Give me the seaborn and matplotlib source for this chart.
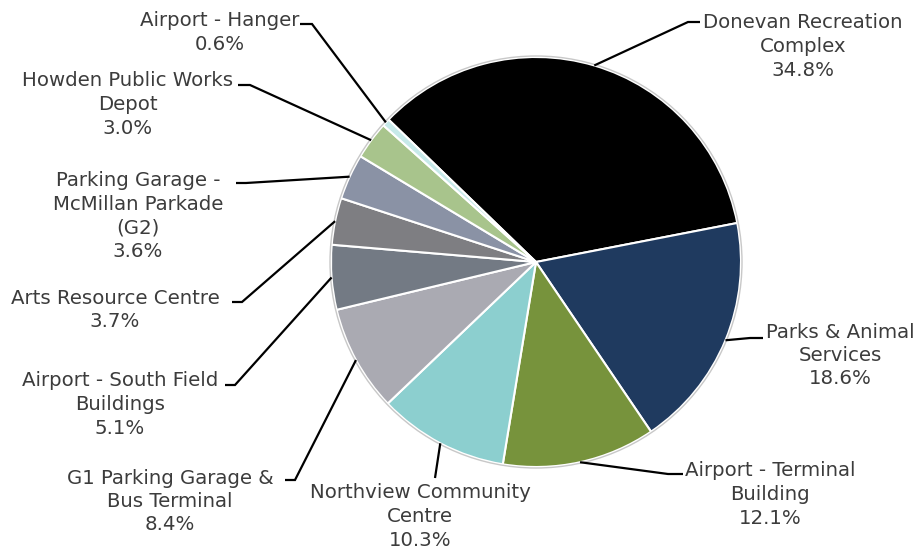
import matplotlib
matplotlib.use("Agg")
import matplotlib.pyplot as plt
import seaborn as sns
import numpy as np

# ---- data ----
labels = ["Donevan Recreation\nComplex", "Parks & Animal\nServices", "Airport - Terminal\nBuilding",
          "Northview Community\nCentre", "G1 Parking Garage &\nBus Terminal", "Airport - South Field\nBuildings",
          "Arts Resource Centre", "Parking Garage -\nMcMillan Parkade\n(G2)", "Howden Public Works\nDepot",
          "Airport - Hanger"]
values = [34.8, 18.6, 12.1, 10.3, 8.4, 5.1, 3.7, 3.6, 3.0, 0.6]
colors = ["#000000", "#1f3a5f", "#77933c", "#8ccfcf", "#aaaab2", "#737a84",
          "#7e7e82", "#8a92a5", "#a8c48c", "#c6e9e9"]

# ---- layout (pixel coords, y from top) ----
W, H = 919, 557
center_px = (536, 262)
radius_px = 205
# text center x, first-line center y
text_pos = [(803, 22), (840, 331), (770, 470), (420, 492), (170, 477),
            (120, 380), (115, 297), (138, 180), (128, 80), (220, 20)]
# horizontal stub (x_start, x_end, y)
stubs = [(700, 688, 22), (763, 750, 338), (683, 668, 474), (435, 435, 478), (285, 295, 480),
         (225, 235, 385), (232, 242, 302), (236, 246, 183), (238, 250, 85), (300, 312, 24)]

sns.set_theme(style="white")
plt.rcParams['font.family'] = ['DejaVu Sans']

fig = plt.figure(figsize=(W / 100, H / 100), dpi=100)
ax = fig.add_axes([0, 0, 1, 1])

cx, cy = center_px[0], H - center_px[1]
wedges, _ = ax.pie(values, colors=colors, startangle=136, counterclock=False,
                   center=(cx, cy), radius=radius_px,
                   wedgeprops=dict(edgecolor="white", linewidth=1.5), frame=True)
ax.set_xlim(0, W)
ax.set_ylim(0, H)
ax.set_aspect('equal')
ax.axis('off')
circ = plt.Circle((cx, cy), radius_px + 1, fill=False, edgecolor="#c8c8c8", linewidth=1.0)
ax.add_patch(circ)

txt_color = "#3c3c3c"
for i, w in enumerate(wedges):
    ang = np.deg2rad((w.theta1 + w.theta2) / 2)
    ex = cx + radius_px * np.cos(ang)
    ey = cy + radius_px * np.sin(ang)
    sx0, sx1, sy = stubs[i]
    if sx0 == sx1:
        ax.plot([sx0, ex], [H - sy, ey], color="black", lw=1.6, solid_capstyle="butt")
    else:
        ax.plot([sx0, sx1, ex], [H - sy, H - sy, ey], color="black", lw=1.6,
                solid_capstyle="butt", solid_joinstyle="miter")
    tx, ty = text_pos[i]
    ax.text(tx, H - ty + 8.5, labels[i] + "\n" + f"{values[i]:.1f}%", ha="center", va="top",
            fontsize=14.2, color=txt_color, linespacing=1.3)

fig.savefig("out.png", dpi=100)
